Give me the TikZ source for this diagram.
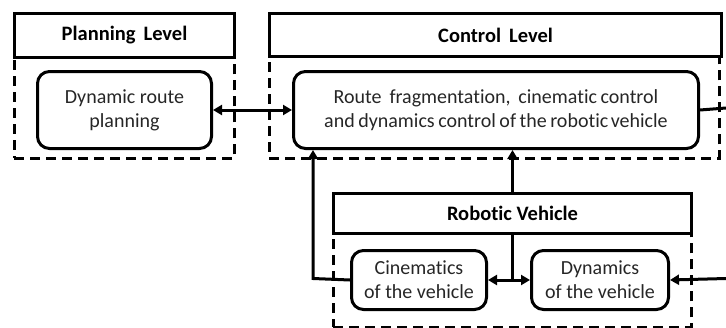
\documentclass[tikz,border=0pt]{standalone}
\usepackage{fontspec}
\setmainfont{Carlito}[Ligatures={NoCommon}]
\usetikzlibrary{arrows.meta,calc}
\definecolor{txt}{HTML}{262626}
\tikzset{
  header/.style={draw, line width=3pt, anchor=north west, inner sep=0pt,
    font=\fontsize{20.5}{24}\selectfont\bfseries, text=black},
  region/.style={draw, line width=2.8pt, dash pattern=on 10pt off 6pt, anchor=north west, inner sep=0pt},
  block/.style={draw, line width=3pt, rounded corners=12pt, anchor=north west, inner sep=0pt,
    align=center, font=\fontsize{20}{24}\selectfont, text=txt},
  link/.style={line width=3pt},
  tip/.style={-{Triangle[length=9pt,width=10pt]}},
  tips/.style={{Triangle[length=9pt,width=10pt]}-{Triangle[length=9pt,width=10pt]}}
}
\begin{document}
\begin{tikzpicture}[x=1pt,y=-1pt]
\useasboundingbox (0,0) rectangle (726,327);
% dashed level regions
\node[region, minimum width=220pt, minimum height=101pt] (planreg) at (13,56) {};
\node[region, minimum width=450pt, minimum height=102pt] (ctrlreg) at (268,55) {};
\node[region, minimum width=358pt, minimum height=94pt] (vehreg) at (332,232) {};
% level headers
\node[header, minimum width=220pt, minimum height=44pt] (planh) at (13,12) {Planning\, Level};
\node[header, minimum width=452pt, minimum height=43pt] (ctrlh) at (268,12) {Control\, Level};
\node[header, minimum width=358pt, minimum height=40pt] (vehh) at (332,192) {Robotic Vehicle};
% function blocks
\node[block, minimum width=174pt, minimum height=77pt] (plan) at (36,70) {Dynamic route\\planning};
\node[block, minimum width=405pt, minimum height=77pt] (route) at (292,70)
  {Route\, fragmentation,\, cinematic\kern-1pt\ control\\and\kern-1pt\ dynamics\kern-1pt\ control\kern-1pt\ of\kern-1pt\ the\kern-1pt\ robotic\kern-2pt\ vehicle};
\node[block, minimum width=135pt, minimum height=59pt] (cin) at (350,249) {Cinematics\\of the vehicle};
\node[block, minimum width=137pt, minimum height=59pt] (dyn) at (530,249) {Dynamics\\of the vehicle};
% connectors
\coordinate (outR) at (726,108);
\coordinate (inR) at (726,278.5);
\coordinate (loopL) at (313,278.5);
\coordinate (split) at (vehh.south |- cin.east);
\draw[link, tips] (plan.east) -- (route.west);
\draw[link] (route.east) -- (outR);
\draw[link, tip] (vehh.north) -- (vehh.north |- route.south);
\draw[link, tip] (cin.west) -- (loopL) -- (loopL |- route.south);
\draw[link] (vehh.south) -- (split);
\draw[link, tip] (split) -- (cin.east);
\draw[link, tip] (split) -- (dyn.west);
\draw[link, tip] (inR) -- (dyn.east);
\end{tikzpicture}
\end{document}
